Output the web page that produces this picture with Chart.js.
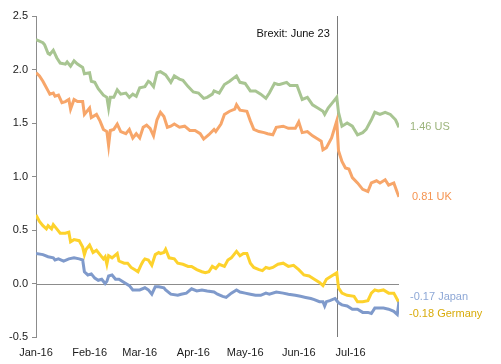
<!DOCTYPE html>
<html>
<head>
<meta charset="utf-8">
<script src="https://cdn.jsdelivr.net/npm/chart.js@4.4.1/dist/chart.umd.min.js"></script>
<style>
html,body{margin:0;padding:0;background:#fff;}
#wrap{width:501px;height:364px;}
</style>
</head>
<body>
<div id="wrap"><canvas id="c" width="501" height="364"></canvas></div>
<script>
// Month tick labels (days since 1 Jan 2016)
const monthLabels = ['Jan-16','Feb-16','Mar-16','Apr-16','May-16','Jun-16','Jul-16'];
const monthDays = [0,31,60,91,121,152,182];
const brexitDay = 174;
const brexitLabel = 'Brexit: June 23';
const yTicks = [-0.5,0,0.5,1,1.5,2,2.5];

// 10-year yields (%)
const usDays = [0,4,5,7,8,10,12,14,17,18,20,22,24,27,28,31,32,34,36,39,41,42,43,45,47,49,52,54,56,58,60,63,65,66,68,70,72,75,78,80,83,85,88,91,94,97,99,102,103,106,109,112,116,118,121,124,127,130,133,135,138,140,141,145,147,151,154,157,160,163,166,167,169,172,174,175,177,180,183,186,189,191,194,196,199,202,205,208,210];
const usVals = [2.28,2.25,2.23,2.15,2.14,2.18,2.11,2.06,2.05,2.07,2.03,2.08,2.05,2.02,1.96,1.97,1.89,1.88,1.82,1.76,1.74,1.64,1.74,1.74,1.81,1.77,1.78,1.74,1.77,1.75,1.83,1.84,1.89,1.88,1.84,1.97,1.98,1.95,1.88,1.94,1.91,1.90,1.84,1.79,1.78,1.73,1.74,1.77,1.80,1.78,1.86,1.89,1.94,1.88,1.87,1.80,1.80,1.77,1.73,1.78,1.87,1.86,1.86,1.88,1.85,1.85,1.72,1.74,1.67,1.64,1.61,1.58,1.64,1.70,1.74,1.60,1.47,1.50,1.47,1.39,1.41,1.44,1.53,1.60,1.58,1.60,1.58,1.53,1.46];

const ukDays = [0,2,4,5,7,8,10,11,13,15,17,19,20,22,24,27,28,31,32,35,37,39,41,42,43,45,47,49,52,54,56,58,60,62,64,66,68,70,72,74,76,78,80,83,86,89,92,95,97,100,103,104,107,109,112,115,116,118,122,124,126,129,132,134,137,139,143,146,150,152,154,157,160,163,165,166,168,171,174,175,177,179,181,183,186,189,192,194,197,199,202,204,207,209,210];
const ukVals = [1.97,1.94,1.89,1.86,1.80,1.77,1.78,1.75,1.76,1.69,1.70,1.72,1.63,1.72,1.70,1.70,1.58,1.64,1.55,1.58,1.52,1.44,1.42,1.29,1.43,1.44,1.49,1.42,1.40,1.44,1.36,1.40,1.36,1.46,1.48,1.45,1.38,1.53,1.60,1.56,1.46,1.47,1.49,1.46,1.47,1.43,1.43,1.40,1.35,1.39,1.44,1.42,1.49,1.58,1.61,1.63,1.67,1.62,1.61,1.52,1.44,1.42,1.41,1.40,1.39,1.46,1.47,1.45,1.45,1.51,1.41,1.42,1.38,1.35,1.33,1.25,1.27,1.36,1.52,1.24,1.14,1.08,1.07,0.99,0.94,0.88,0.86,0.94,0.96,0.94,0.97,0.92,0.94,0.85,0.81];

const jpDays = [0,4,7,10,11,13,16,19,22,25,27,28,30,32,34,36,38,40,41,42,44,46,48,51,54,56,60,63,65,67,69,71,74,75,78,82,84,87,90,93,96,99,103,105,108,110,113,116,118,121,124,127,130,133,135,139,143,146,150,153,156,159,161,164,166,167,168,170,173,175,177,180,183,186,189,192,194,196,199,201,204,207,209,210];
const jpVals = [0.28,0.27,0.25,0.24,0.22,0.23,0.21,0.23,0.24,0.23,0.22,0.11,0.08,0.09,0.05,0.03,0.04,0.00,0.02,0.07,0.08,0.04,0.04,0.01,-0.02,-0.06,-0.06,-0.04,-0.06,-0.10,-0.03,-0.03,-0.04,-0.06,-0.10,-0.11,-0.10,-0.09,-0.05,-0.07,-0.06,-0.07,-0.08,-0.10,-0.12,-0.13,-0.09,-0.06,-0.08,-0.09,-0.10,-0.11,-0.11,-0.09,-0.10,-0.08,-0.09,-0.10,-0.11,-0.12,-0.13,-0.14,-0.15,-0.17,-0.17,-0.21,-0.17,-0.16,-0.14,-0.18,-0.20,-0.21,-0.24,-0.24,-0.27,-0.27,-0.28,-0.23,-0.23,-0.23,-0.24,-0.26,-0.29,-0.17];

const deDays = [0,2,4,6,7,9,10,12,14,17,19,20,22,25,27,28,29,31,33,35,37,39,40,41,42,44,47,48,51,53,55,57,59,61,62,63,65,67,69,71,72,74,75,77,80,82,85,88,90,93,96,98,100,102,104,106,109,111,113,116,118,120,122,124,126,129,131,133,135,137,140,143,146,149,152,155,158,161,164,166,168,171,174,175,177,180,184,186,189,192,194,196,198,201,204,207,209,210];
const deVals = [0.64,0.58,0.54,0.51,0.54,0.51,0.55,0.51,0.47,0.47,0.48,0.39,0.41,0.40,0.34,0.27,0.32,0.36,0.29,0.31,0.27,0.23,0.25,0.18,0.26,0.24,0.28,0.21,0.19,0.19,0.15,0.13,0.11,0.18,0.21,0.23,0.22,0.17,0.27,0.29,0.28,0.29,0.32,0.24,0.23,0.19,0.18,0.16,0.16,0.13,0.11,0.10,0.11,0.16,0.14,0.18,0.16,0.22,0.24,0.30,0.26,0.28,0.28,0.19,0.15,0.13,0.12,0.15,0.14,0.15,0.18,0.19,0.16,0.17,0.13,0.08,0.07,0.04,0.01,-0.02,0.04,0.07,0.10,-0.04,-0.09,-0.11,-0.12,-0.17,-0.17,-0.16,-0.09,-0.06,-0.07,-0.06,-0.09,-0.09,-0.15,-0.18];

const seriesNames = ['US','UK','Japan','Germany'];
const lineColors = ['#a8c592','#f7a66a','#7f9acb','#fdd22c'];
const labelColors = ['#9cb47c','#f59451','#8ea8d6','#d8ab0a'];

function pts(days, vals){ return days.map((d,i)=>({x:d,y:vals[i]})); }
const allDays = [usDays, ukDays, jpDays, deDays];
const allVals = [usVals, ukVals, jpVals, deVals];

const datasets = seriesNames.map((n,i)=>({
  label:n,
  data:pts(allDays[i], allVals[i]),
  borderColor:lineColors[i],
  borderWidth:3,
  pointRadius:0,
  tension:0,
  fill:false
}));

const FONT = 'Liberation Sans, Arial, sans-serif';

const annot = {
  id:'annot',
  beforeDatasetsDraw(chart){
    const {ctx, chartArea:a, scales:{x,y}} = chart;
    ctx.save();
    // zero line
    const y0 = Math.round(y.getPixelForValue(0))+0.5;
    ctx.strokeStyle='#8c8c8c'; ctx.lineWidth=1;
    ctx.beginPath(); ctx.moveTo(a.left,y0); ctx.lineTo(a.right,y0); ctx.stroke();
    // brexit line
    const bx = Math.round(x.getPixelForValue(brexitDay))+0.5;
    ctx.strokeStyle='#7a7a7a';
    ctx.beginPath(); ctx.moveTo(bx,a.top); ctx.lineTo(bx,a.bottom); ctx.stroke();
    ctx.restore();
  },
  afterDatasetsDraw(chart){
    const {ctx, chartArea:a, scales:{x,y}} = chart;
    ctx.save();
    ctx.font = '11px '+FONT;
    ctx.textBaseline='middle';
    const bx = x.getPixelForValue(brexitDay);
    ctx.fillStyle='#111'; ctx.textAlign='right';
    ctx.fillText(brexitLabel, bx-7, a.top+18);
    ctx.textAlign='left';
    const dy = [0,0,-5,11];
    const dx = [11,13,11,10];
    seriesNames.forEach((n,i)=>{
      const vals = allVals[i];
      const v = vals[vals.length-1];
      const txt = (v<0?'-':'')+Math.abs(v).toFixed(2)+' '+n;
      ctx.fillStyle = labelColors[i];
      ctx.fillText(txt, a.right+dx[i], y.getPixelForValue(v)+dy[i]);
    });
    ctx.restore();
  }
};

new Chart(document.getElementById('c'), {
  type:'line',
  data:{datasets},
  options:{
    responsive:false,
    animation:false,
    layout:{padding:{top:16,right:102,left:0,bottom:0}},
    plugins:{legend:{display:false},tooltip:{enabled:false}},
    scales:{
      x:{
        type:'linear', min:0, max:210,
        grid:{display:false, drawTicks:false},
        border:{display:false},
        afterBuildTicks(s){ s.ticks = monthDays.map(v=>({value:v})); },
        afterFit(s){ s.height = 27; },
        ticks:{
          autoSkip:false, maxRotation:0, padding:9,
          color:'#1a1a1a', font:{family:FONT,size:11},
          callback:(v,i)=>monthLabels[i]
        }
      },
      y:{
        min:-0.5, max:2.5,
        grid:{drawOnChartArea:false, drawTicks:true, tickLength:4, color:'#8c8c8c'},
        border:{display:true, color:'#8c8c8c'},
        afterBuildTicks(s){ s.ticks = yTicks.map(v=>({value:v})); },
        afterFit(s){ s.width = 36; },
        ticks:{
          padding:4, color:'#1a1a1a', font:{family:FONT,size:11},
          callback:v=>Number(v).toFixed(1)
        }
      }
    }
  },
  plugins:[annot]
});
</script>
</body>
</html>
